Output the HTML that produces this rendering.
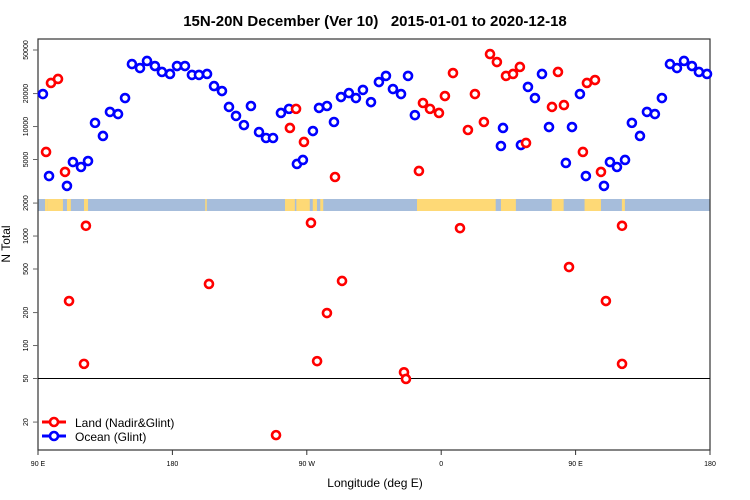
<!DOCTYPE html>
<html><head><meta charset="utf-8"><style>
body{margin:0;background:#fff;}
svg{display:block;font-family:"Liberation Sans",sans-serif;}
</style></head><body>
<svg id="chart" width="750" height="500" xmlns="http://www.w3.org/2000/svg">
<text x="375" y="26" text-anchor="middle" font-size="15" font-weight="bold" style="white-space:pre">15N-20N December (Ver 10)   2015-01-01 to 2020-12-18</text>
<g id="strip"></g>
<g id="axes"></g>
<g id="marks"></g>
<text x="375" y="487" text-anchor="middle" font-size="12">Longitude (deg E)</text>
<text transform="translate(10,244) rotate(-90)" text-anchor="middle" font-size="12">N Total</text>
<g>
<g>
<line x1="42" y1="422" x2="66" y2="422" stroke="#f00" stroke-width="3"/>
<circle cx="54" cy="422" r="4" fill="#fff" stroke="#f00" stroke-width="2.6"/>
<text x="75" y="427" font-size="12">Land (Nadir&amp;Glint)</text></g>
<g>
<line x1="42" y1="436" x2="66" y2="436" stroke="#00f" stroke-width="3"/>
<circle cx="54" cy="436" r="4" fill="#fff" stroke="#00f" stroke-width="2.6"/>
<text x="75" y="441" font-size="12">Ocean (Glint)</text></g>
</g>
</svg>
<script>
const xTicks=[90,180,270,360,450,540];
const xTickLabels=["90 E","180","90 W","0","90 E","180"];
const yTicks=[50000,20000,10000,5000,2000,1000,500,200,100,50,20];
const oceanLon=[93.3,97.4,109.4,113.4,118.8,123.5,128.2,133.5,138.2,143.6,148.3,152.9,158.3,163.0,168.3,173.0,178.4,183.1,188.4,193.1,197.8,203.2,207.9,213.2,217.9,222.6,227.9,232.6,238.0,242.7,247.4,252.7,258.1,263.4,267.4,274.1,278.2,283.5,288.2,292.9,298.2,302.9,307.6,313.0,318.3,323.0,327.7,333.1,337.8,342.4,400.0,401.4,413.4,418.1,422.8,427.5,432.2,443.5,447.6,452.9,456.9,469.0,473.0,477.7,483.1,487.7,493.1,497.8,503.1,507.8,513.2,517.9,522.6,527.9,532.6,538.0];
const oceanVal=[19800,3530,2870,4740,4270,4840,10800,8200,13600,13000,18200,37200,34200,39700,35700,31500,30200,35700,35700,29600,29600,30200,23400,21100,15100,12500,10300,15400,8900,7860,7860,13300,14500,4550,4950,9100,14800,15400,11000,18600,20200,18200,21600,16700,25500,29000,22000,19800,29000,12700,6640,9700,6780,23000,18200,30200,9900,4650,9900,19800,3530,2870,4740,4270,4950,10800,8200,13600,13000,18200,37200,34200,39700,35700,31500,30200];
const landLon=[95.4,98.7,103.4,108.1,110.8,122.1,120.8,204.5,249.4,258.7,262.8,268.1,272.8,276.9,283.5,288.9,293.6,335.1,336.4,345.1,347.8,352.5,358.5,362.5,367.9,372.6,377.9,382.6,388.6,392.7,397.3,403.4,408.1,412.7,416.8,434.2,438.2,442.2,445.6,454.9,457.6,463.0,467.0,470.3,481.1,481.1];
const landVal=[5860,25000,27200,3850,255,1240,68,365,15.2,9700,14500,7230,1320,72,198,3460,389,57,49.5,3930,16400,14500,13300,19000,30800,1180,9300,19800,11000,45900,38800,29000,30200,35000,7080,15100,31500,15700,521,5860,25000,26600,3850,255,1240,68];
const landSegs=[[94.7,96.5],[96.5,106.7],[109.4,112],[120.8,123.5],[202,203],[255.4,262],[263,272],[274,276.8],[279,281],[343.8,396.5],[400,410],[434,442],[456,467],[481,483]];

const NS="http://www.w3.org/2000/svg";
const X0=38,X1=710,Y0=39,Y1=450;
const xs=v=>X0+(v-90)*(X1-X0)/450;
const ys=v=>50+(Math.log10(50000)-Math.log10(v))*109.5;
function mk(tag,attrs,parent){const e=document.createElementNS(NS,tag);for(const k in attrs)e.setAttribute(k,attrs[k]);parent.appendChild(e);return e;}
const strip=document.getElementById('strip');
const r0=mk('rect',{x:X0,y:199,width:X1-X0,height:12,fill:'#a6bddb'},strip);


landSegs.forEach(s=>{const r=mk('rect',{x:xs(s[0]),y:199,width:xs(s[1])-xs(s[0]),height:12,fill:'#fed976'},strip);

});
const ax=document.getElementById('axes');
mk('rect',{x:X0,y:Y0,width:X1-X0,height:Y1-Y0,fill:'none',stroke:'#333',"stroke-width":1.2},ax);
mk('line',{x1:X0,x2:X1,y1:ys(50),y2:ys(50),stroke:'#000',"stroke-width":1},ax);
xTicks.forEach((t,i)=>{const x=xs(t);mk('line',{x1:x,x2:x,y1:Y1,y2:Y1+5,stroke:'#333'},ax);
const tx=mk('text',{x:x,y:Y1+16,"text-anchor":"middle","font-size":7},ax);tx.textContent=xTickLabels[i];

});
yTicks.forEach(t=>{const y=ys(t);mk('line',{x1:X0-5,x2:X0,y1:y,y2:y,stroke:'#666'},ax);
const tx=mk('text',{transform:`translate(28,${y}) rotate(-90)`,"text-anchor":"middle","font-size":7},ax);tx.textContent=t;

});
const mg=document.getElementById('marks');
function series(lon,val,col,name){lon.forEach((l,i)=>{const c=mk('circle',{cx:xs(l),cy:ys(val[i]),r:4,fill:'#fff',stroke:col,"stroke-width":2.6},mg);

});}
series(oceanLon,oceanVal,'#00f','ocean-point');
series(landLon,landVal,'#f00','land-point');
</script>
</body></html>
